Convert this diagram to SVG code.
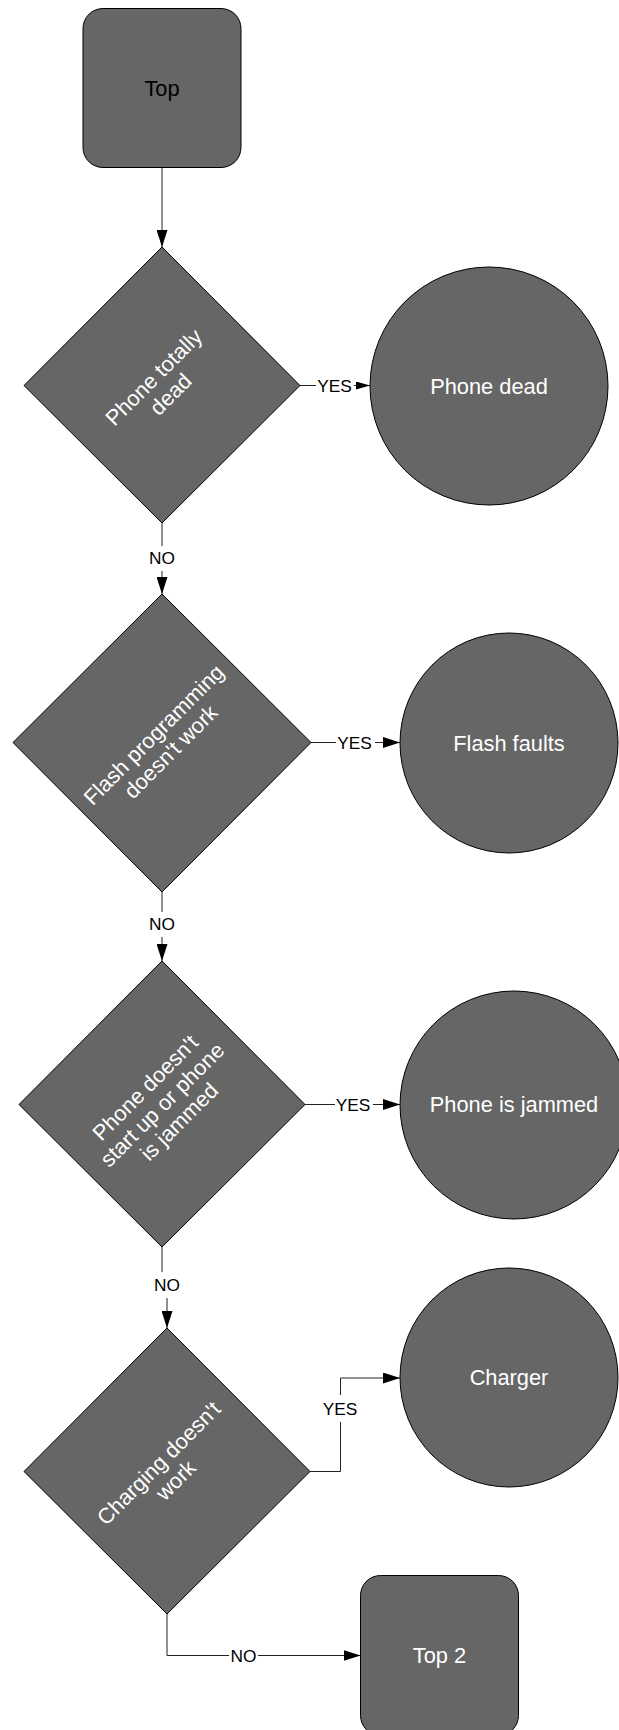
<svg xmlns="http://www.w3.org/2000/svg" width="619" height="1730" viewBox="0 0 619 1730">
<style>
.shape{fill:#666666;stroke:#000;stroke-width:1}
.ntext{font-family:"Liberation Sans",Arial,sans-serif;font-size:21.8px;fill:#fff;text-anchor:middle}
.dark{fill:#000}
.conn{fill:none;stroke:#222;stroke-width:1}
.lbl{font-family:"Liberation Sans",Arial,sans-serif;font-size:17.3px;fill:#000;text-anchor:middle}
.lblbg{fill:#fff}
</style>
<defs>
<marker id="arr" markerUnits="userSpaceOnUse" viewBox="0 0 17 11" refX="17" refY="5.5" markerWidth="17" markerHeight="11" orient="auto">
<path d="M0,0 L17,5.5 L0,11 z" fill="#000"/>
</marker>
<marker id="arrs" markerUnits="userSpaceOnUse" viewBox="0 0 14 8" refX="14" refY="4" markerWidth="14" markerHeight="8" orient="auto">
<path d="M0,0 L14,4 L0,8 z" fill="#000"/>
</marker>
</defs>

<g id="connectors">
<path class="conn" d="M162,168 V247" marker-end="url(#arr)"/>
<path class="conn" d="M300,385.5 H370" marker-end="url(#arrs)"/>
<path class="conn" d="M162,523 V594" marker-end="url(#arr)"/>
<path class="conn" d="M311,742.5 H400" marker-end="url(#arr)"/>
<path class="conn" d="M162,892 V961" marker-end="url(#arr)"/>
<path class="conn" d="M305,1104.5 H400" marker-end="url(#arr)"/>
<path class="conn" d="M162,1247 V1285 H167 V1328" marker-end="url(#arr)"/>
<path class="conn" d="M310,1471.5 H340.5 V1378 H400" marker-end="url(#arr)"/>
<path class="conn" d="M167,1614 V1655.5 H360.5" marker-end="url(#arr)"/>
<g id="labels">
<rect class="lblbg" x="316" y="376" width="38" height="20"/>
<text class="lbl" x="334.5" y="392.2">YES</text>
<rect class="lblbg" x="150" y="546" width="24" height="25"/>
<text class="lbl" x="162" y="564.2">NO</text>
<rect class="lblbg" x="336" y="733" width="39" height="20"/>
<text class="lbl" x="354.5" y="749">YES</text>
<rect class="lblbg" x="150" y="912" width="24" height="25"/>
<text class="lbl" x="162" y="930.2">NO</text>
<rect class="lblbg" x="335" y="1095" width="38" height="20"/>
<text class="lbl" x="353" y="1110.7">YES</text>
<rect class="lblbg" x="153" y="1272" width="28" height="26"/>
<text class="lbl" x="167" y="1291.2">NO</text>
<rect class="lblbg" x="322" y="1395" width="37" height="27"/>
<text class="lbl" x="340" y="1415.2">YES</text>
<rect class="lblbg" x="229" y="1646" width="29" height="20"/>
<text class="lbl" x="243.5" y="1661.7">NO</text>
</g>
</g>

<g id="node-top">
<rect class="shape" x="83" y="8.5" width="158" height="159" rx="20" ry="20"/>
<text class="ntext dark" x="162" y="95.8">Top</text>
</g>

<g id="node-d1">
<polygon class="shape" points="162,247 300,385.5 162,523 24,385.5"/>
<g transform="rotate(-45 162 385.5)">
<text class="ntext" x="162" y="381.3">Phone totally</text>
<text class="ntext" x="162" y="405.3">dead</text>
</g>
</g>

<g id="node-c1">
<ellipse class="shape" cx="489" cy="386" rx="119" ry="119"/>
<text class="ntext" x="489" y="393.5">Phone dead</text>
</g>

<g id="node-d2">
<polygon class="shape" points="162,594 311,742.5 162,892 13,742.5"/>
<g transform="rotate(-45 162 743)">
<text class="ntext" x="162" y="738.8">Flash programming</text>
<text class="ntext" x="162" y="762.8">doesn't work</text>
</g>
</g>

<g id="node-c2">
<ellipse class="shape" cx="509" cy="743" rx="109" ry="110"/>
<text class="ntext" x="509" y="750.5">Flash faults</text>
</g>

<g id="node-d3">
<polygon class="shape" points="162,961 305,1104.5 162,1247 19,1104.5"/>
<g transform="rotate(-45 162 1104.5)">
<text class="ntext" x="162" y="1088.3">Phone doesn't</text>
<text class="ntext" x="162" y="1112.3">start up or phone</text>
<text class="ntext" x="162" y="1136.3">is jammed</text>
</g>
</g>

<g id="node-c3">
<ellipse class="shape" cx="514" cy="1105" rx="114" ry="114"/>
<text class="ntext" x="514" y="1112.3">Phone is jammed</text>
</g>

<g id="node-d4">
<polygon class="shape" points="167,1328 310,1471.5 167,1614 24,1471.5"/>
<g transform="rotate(-45 167 1471.5)">
<text class="ntext" x="167" y="1467.3">Charging doesn't</text>
<text class="ntext" x="167" y="1491.3">work</text>
</g>
</g>

<g id="node-c4">
<ellipse class="shape" cx="509" cy="1377.5" rx="109" ry="109.5"/>
<text class="ntext" x="509" y="1385">Charger</text>
</g>

<g id="node-top2">
<rect class="shape" x="360.5" y="1575.5" width="158" height="160" rx="20" ry="20"/>
<text class="ntext" x="439.5" y="1662.8">Top 2</text>
</g>
</svg>
